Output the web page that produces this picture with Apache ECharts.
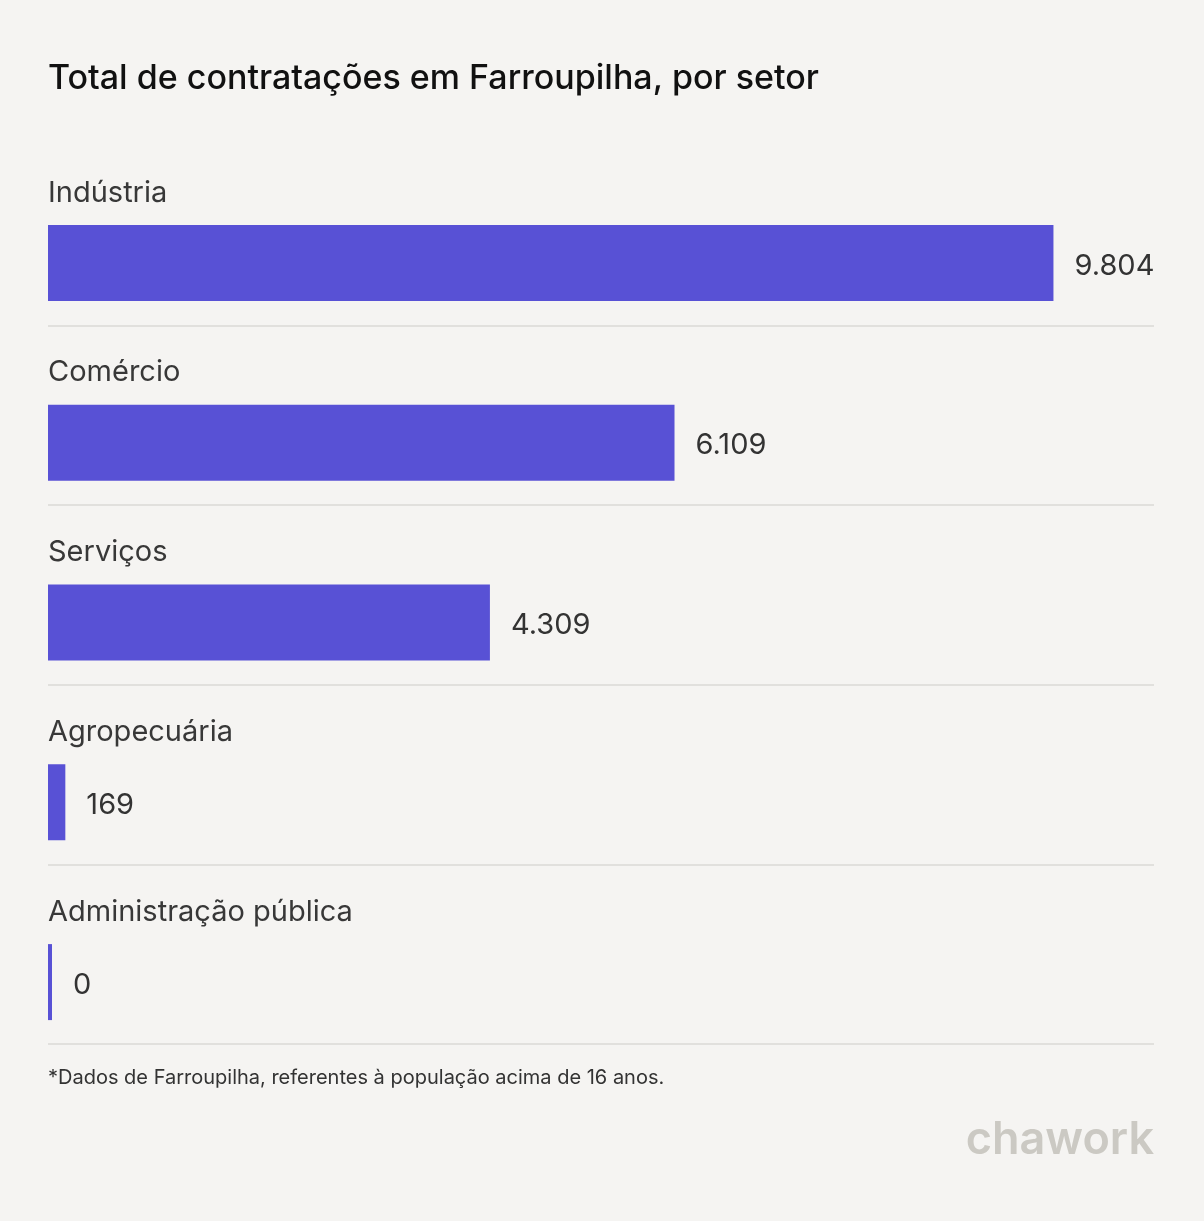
<!DOCTYPE html>
<html>
<head>
<meta charset="utf-8">
<script src="https://cdn.jsdelivr.net/npm/echarts@6/dist/echarts.min.js"></script>
<style>
  html, body { margin: 0; padding: 0; background: #f5f4f2; }
  #chart { width: 1204px; height: 1221px; }
</style>
</head>
<body>
<div id="chart"></div>
<script>
  // dados
  const setores = ['Indústria', 'Comércio', 'Serviços', 'Agropecuária', 'Administração pública']
  const contratacoes = [9804, 6109, 4309, 169, 0]

  const titulo = 'Total de contratações em Farroupilha, por setor'
  const nota = '*Dados de Farroupilha, referentes à população acima de 16 anos.'

  const fonte = 'Inter, "Noto Sans", sans-serif'
  const chart = echarts.init(document.getElementById('chart'), null, { renderer: 'canvas' })

  const fmt = v => String(v).replace(/\B(?=(\d{3})+(?!\d))/g, '.')

  chart.setOption({
    backgroundColor: '#f5f4f2',
    animation: false,
    title: {
      text: titulo,
      left: 43,
      top: 57,
      textStyle: { fontFamily: fonte, fontSize: 34, fontWeight: 500, color: '#111111' }
    },
    grid: [
      // barras
      { left: 48, right: 50, top: 173, bottom: 149 },
      // linhas separadoras
      { left: 48, right: 50, top: 146, bottom: 177 }
    ],
    xAxis: [
      { gridIndex: 0, type: 'value', min: 0, max: v => v.max * 1.1, show: false },
      { gridIndex: 1, type: 'value', min: 0, max: 1, show: false }
    ],
    yAxis: [
      {
        gridIndex: 0,
        type: 'category',
        data: setores,
        inverse: true,
        z: 10,
        axisLine: { show: false },
        axisTick: { show: false },
        splitLine: { show: false },
        axisLabel: {
          inside: true,
          margin: 0,
          // nome do setor acima da barra
          formatter: v => '{n|' + v + '}\n{s|}',
          rich: {
            n: { fontFamily: fonte, fontSize: 29, color: '#383838', lineHeight: 34 },
            s: { height: 140, lineHeight: 140 }
          }
        }
      },
      {
        gridIndex: 1,
        type: 'category',
        data: setores,
        inverse: true,
        axisLine: { show: false },
        axisTick: { show: false },
        axisLabel: { show: false },
        splitLine: {
          show: true,
          interval: idx => idx > 0,
          lineStyle: { color: '#e1e0dd', width: 2 }
        }
      }
    ],
    series: [{
      type: 'bar',
      xAxisIndex: 0,
      yAxisIndex: 0,
      data: contratacoes,
      barWidth: 76,
      barMinHeight: 4,
      itemStyle: { color: '#5851d5' },
      label: {
        show: true,
        position: 'right',
        distance: 21,
        offset: [0, 3],
        formatter: p => fmt(p.value),
        fontFamily: fonte,
        fontSize: 29,
        color: '#333333'
      },
      silent: true
    }],
    graphic: [
      {
        type: 'text',
        left: 48,
        top: 1068,
        style: { text: nota, fontFamily: fonte, fontSize: 20, fill: '#333333' }
      },
      {
        type: 'text',
        right: 50,
        top: 1118,
        style: { text: 'chawork', fontFamily: fonte, fontSize: 45, fontWeight: 600, fill: '#cbc9c3' }
      }
    ]
  })
</script>
</body>
</html>
